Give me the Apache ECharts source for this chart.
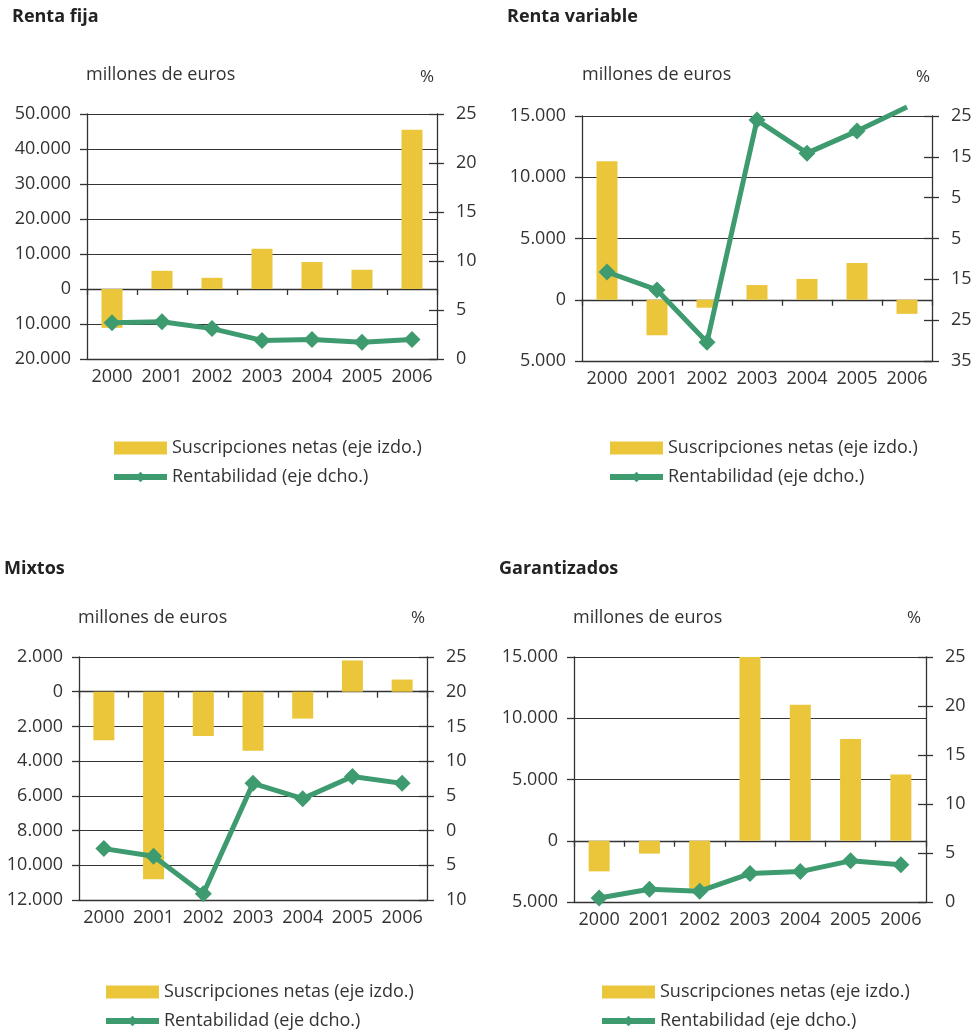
<!DOCTYPE html>
<html><head><meta charset="utf-8">
<script src="https://cdn.jsdelivr.net/npm/echarts@6/dist/echarts.min.js"></script>
<style>html,body{margin:0;padding:0;background:#fff}#c{width:976px;height:1032px}</style>
</head><body><div id="c"></div>
<script>
// ---- data ----
const years = ['2000', '2001', '2002', '2003', '2004', '2005', '2006'];
const rfSusc = [-11100, 5200, 3200, 11500, 7700, 5500, 45500];
const rfRent = [3.7, 3.8, 3.1, 1.9, 2.0, 1.7, 2.0];
const rvSusc = [11300, -2900, -650, 1200, 1700, 3000, -1150];
const rvRent = [-13.2, -17.6, -30.4, 24.0, 15.9, 21.3, 27.2];
const mxSusc = [-2800, -10800, -2550, -3400, -1550, 1800, 700];
const mxRent = [-2.6, -3.7, -9.1, 6.8, 4.6, 7.8, 6.8];
const gaSusc = [-2500, -1050, -3900, 15000, 11100, 8300, 5400];
const gaRent = [0.4, 1.3, 1.1, 2.9, 3.1, 4.2, 3.8];
const rvRightTicks = [-35, -25, -15, -5, 5, 15, 25];
const nameSusc = 'Suscripciones netas (eje izdo.)';
const nameRent = 'Rentabilidad (eje dcho.)';
const titles = ['Renta fija', 'Renta variable', 'Mixtos', 'Garantizados'];
const unitLeft = 'millones de euros';
const unitRight = '%';

// ---- layout ----
const FONT = 'Open Sans';
const TXT = '#333333';
const LINEC = '#333333';
const YEL = '#EBC63B';
const GRN = '#3E9B6F';

const panels = [
  { title: titles[0], susc: rfSusc, rent: rfRent, grid: { left: 87, top: 114, width: 350, height: 245 },
    L: [-20000, 50000, 10000], R: [0, 25, 5], tpos: [12, 17], upos: [86, 75], ppos: [427, 77], legend: [111, 439] },
  { title: titles[1], susc: rvSusc, rent: rvRent, grid: { left: 582, top: 116, width: 350, height: 245 },
    L: [-5000, 15000, 5000], R: [-35, 25, null], custom: rvRightTicks, tpos: [507, 17], upos: [582, 75], ppos: [923, 77], legend: [607, 439] },
  { title: titles[2], susc: mxSusc, rent: mxRent, grid: { left: 79, top: 657, width: 348, height: 243 },
    L: [-12000, 2000, 2000], R: [-10, 25, 5], tpos: [4, 569], upos: [78, 618], ppos: [418, 618], legend: [103, 983] },
  { title: titles[3], susc: gaSusc, rent: gaRent, grid: { left: 574, top: 657, width: 352, height: 245 },
    L: [-5000, 15000, 5000], R: [0, 25, 5], tpos: [499, 569], upos: [573, 618], ppos: [914, 618], legend: [599, 983] }
];

function fmtThousands(v) {
  return String(Math.abs(v)).replace(/\B(?=(\d{3})+(?!\d))/g, '.');
}

const grid = [], xAxis = [], yAxis = [], series = [], legend = [], graphic = [];
const axLine = { show: true, lineStyle: { color: LINEC, width: 1.3 } };

panels.forEach((p, g) => {
  grid.push(Object.assign({ containLabel: false }, p.grid));
  // bottom axis with labels
  xAxis.push({
    type: 'category', gridIndex: g, data: years, position: 'bottom',
    axisLine: { show: true, onZero: false, lineStyle: { color: LINEC, width: 1.3 } },
    axisTick: { show: false },
    axisLabel: { interval: 0, fontSize: 18, color: TXT, margin: 9, fontFamily: FONT },
    splitLine: { show: false }
  });
  // zero line axis with ticks
  xAxis.push({
    type: 'category', gridIndex: g, data: years, position: 'bottom',
    axisLine: { show: true, onZero: true, lineStyle: { color: LINEC, width: 1.3 } },
    axisTick: { show: true, length: 6, lineStyle: { color: LINEC, width: 1.3 } },
    axisLabel: { show: false },
    splitLine: { show: false }
  });
  // left
  yAxis.push({
    type: 'value', gridIndex: g, position: 'left', min: p.L[0], max: p.L[1], interval: p.L[2],
    axisLine: axLine,
    axisTick: { show: true, length: 7, lineStyle: { color: LINEC, width: 1.3 } },
    axisLabel: { formatter: fmtThousands, fontSize: 18, color: TXT, margin: 16, fontFamily: FONT },
    splitLine: { show: true, lineStyle: { color: LINEC, width: 1.2 } }
  });
  const rBase = { type: 'value', gridIndex: g, position: 'right', min: p.R[0], max: p.R[1] };
  if (p.R[2] != null) rBase.interval = p.R[2];
  const rLabel = { formatter: v => String(Math.abs(v)), fontSize: 18, color: TXT, margin: 19, fontFamily: FONT };
  const rTickOut = { show: true, length: 7, lineStyle: { color: LINEC, width: 1.3 } };
  const rTickIn = { show: true, inside: true, length: 8, lineStyle: { color: LINEC, width: 1.3 } };
  if (p.custom) { rLabel.customValues = p.custom; rTickOut.customValues = p.custom; rTickIn.customValues = p.custom; }
  yAxis.push(Object.assign({}, rBase, {
    axisLine: axLine, axisTick: rTickOut, axisLabel: rLabel, splitLine: { show: false }
  }));
  yAxis.push(Object.assign({}, rBase, {
    axisLine: { show: false }, axisTick: rTickIn, axisLabel: { show: false }, splitLine: { show: false }
  }));
  series.push({
    type: 'bar', name: nameSusc, xAxisIndex: 2 * g, yAxisIndex: 3 * g, data: p.susc,
    barWidth: 21, itemStyle: { color: YEL }, z: 2
  });
  series.push({
    type: 'line', name: nameRent, xAxisIndex: 2 * g, yAxisIndex: 3 * g + 1,
    data: p.rent.map(v => (v > p.R[1] ? { value: v, symbol: 'none' } : v)),
    symbol: 'diamond', symbolSize: 17, clip: false,
    lineStyle: { color: GRN, width: 5 }, itemStyle: { color: GRN }, z: 3
  });
  legend.push({
    left: p.legend[0], top: p.legend[1], width: 340, height: 70, orient: 'vertical', itemWidth: 53, itemHeight: 13, itemGap: 11,
    padding: 0,
    data: [{ name: nameSusc, icon: 'rect' }, { name: nameRent }], selectedMode: false,
    lineStyle: { width: 6 },
    textStyle: { fontSize: 18, color: TXT, fontFamily: FONT }
  });
  graphic.push({ type: 'text', style: { x: p.tpos[0], y: p.tpos[1], text: p.title, font: 'bold 18px "Open Sans"', fill: '#222', verticalAlign: 'middle' } });
  graphic.push({ type: 'text', style: { x: p.upos[0], y: p.upos[1], text: unitLeft, font: '18px "Open Sans"', fill: TXT, verticalAlign: 'middle' } });
  graphic.push({ type: 'text', style: { x: p.ppos[0], y: p.ppos[1], text: unitRight, font: '17px "Open Sans"', fill: TXT, align: 'center', verticalAlign: 'middle' } });
});

const chart = echarts.init(document.getElementById('c'));
chart.setOption({
  animation: false,
  backgroundColor: '#fff',
  textStyle: { fontFamily: FONT },
  grid, xAxis, yAxis, series, legend, graphic
});
</script></body></html>
